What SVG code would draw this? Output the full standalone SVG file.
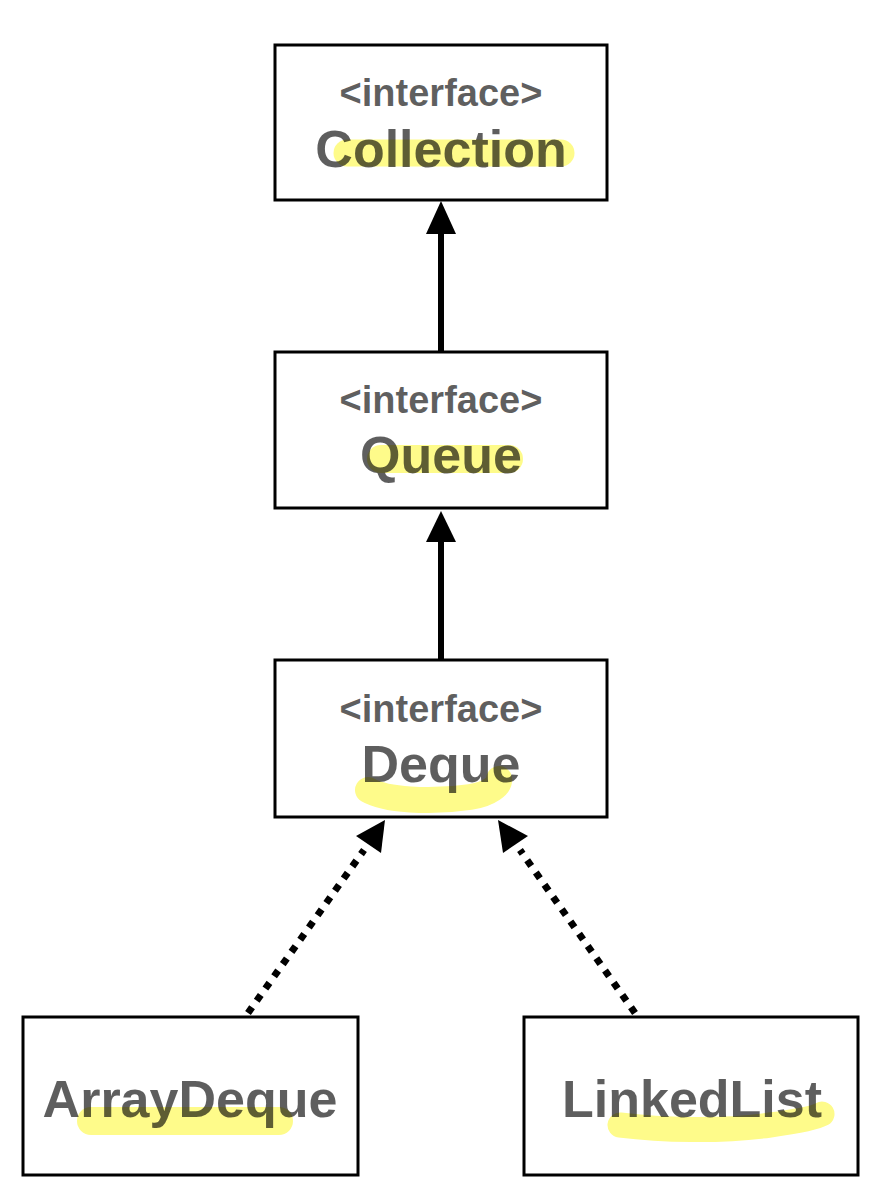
<svg xmlns="http://www.w3.org/2000/svg" width="888" height="1194" viewBox="0 0 888 1194">
<defs>
<style>
.box{fill:#fff;stroke:#000;stroke-width:3}
.hl{fill:none;stroke:#fefb8a;stroke-linecap:round;stroke-linejoin:round}
.t{font-family:"Liberation Sans",Arial,sans-serif;font-weight:bold;fill:#000;fill-opacity:0.63;text-anchor:middle}
.st{font-size:38px}
.nm{font-size:52px}
.solid{stroke:#000;stroke-width:6;fill:none}
.dot{stroke:#000;stroke-width:7;fill:none;stroke-dasharray:7 8}
.head{fill:#000}
</style>
</defs>
<rect width="888" height="1194" fill="#fff"/>
<g id="connectors">
<line class="solid" x1="441" y1="352" x2="441" y2="228"/>
<polygon class="head" points="441,201 426,234 456,234"/>
<line class="solid" x1="441" y1="660" x2="441" y2="536"/>
<polygon class="head" points="441,511 426,542 456,542"/>
<line class="dot" x1="248" y1="1013" x2="364" y2="850"/>
<polygon class="head" points="385,820 356,836 381,853"/>
<line class="dot" x1="635" y1="1013" x2="520" y2="850"/>
<polygon class="head" points="498,820 503,853 528,836"/>
</g>
<g id="collection">
<rect class="box" x="275" y="45" width="332" height="155"/>
<path class="hl" stroke-width="27" d="M347,153 L561,153"/>
<text class="t st" x="441" y="106">&lt;interface&gt;</text>
<text class="t nm" x="441" y="167">Collection</text>
</g>
<g id="queue">
<rect class="box" x="275" y="352" width="332" height="156"/>
<path class="hl" stroke-width="28" d="M381,459 L509,459"/>
<text class="t st" x="441" y="413">&lt;interface&gt;</text>
<text class="t nm" x="441" y="473">Queue</text>
</g>
<g id="deque">
<rect class="box" x="275" y="660" width="332" height="157"/>
<path class="hl" stroke-width="26" d="M368,790 C385,800 430,803 470,797 C490,794 500,785 499,779"/>
<text class="t st" x="441" y="722">&lt;interface&gt;</text>
<text class="t nm" x="441" y="782">Deque</text>
</g>
<g id="arraydeque">
<rect class="box" x="23" y="1017" width="335" height="158"/>
<path class="hl" stroke-width="28" d="M91,1121 L279,1121"/>
<text class="t nm" x="190" y="1117">ArrayDeque</text>
</g>
<g id="linkedlist">
<rect class="box" x="524" y="1017" width="334" height="158"/>
<path class="hl" stroke-width="25" d="M620,1125 C660,1130 720,1132 770,1125 C800,1121 815,1118 822,1114"/>
<text class="t nm" x="692" y="1117">LinkedList</text>
</g>
</svg>
